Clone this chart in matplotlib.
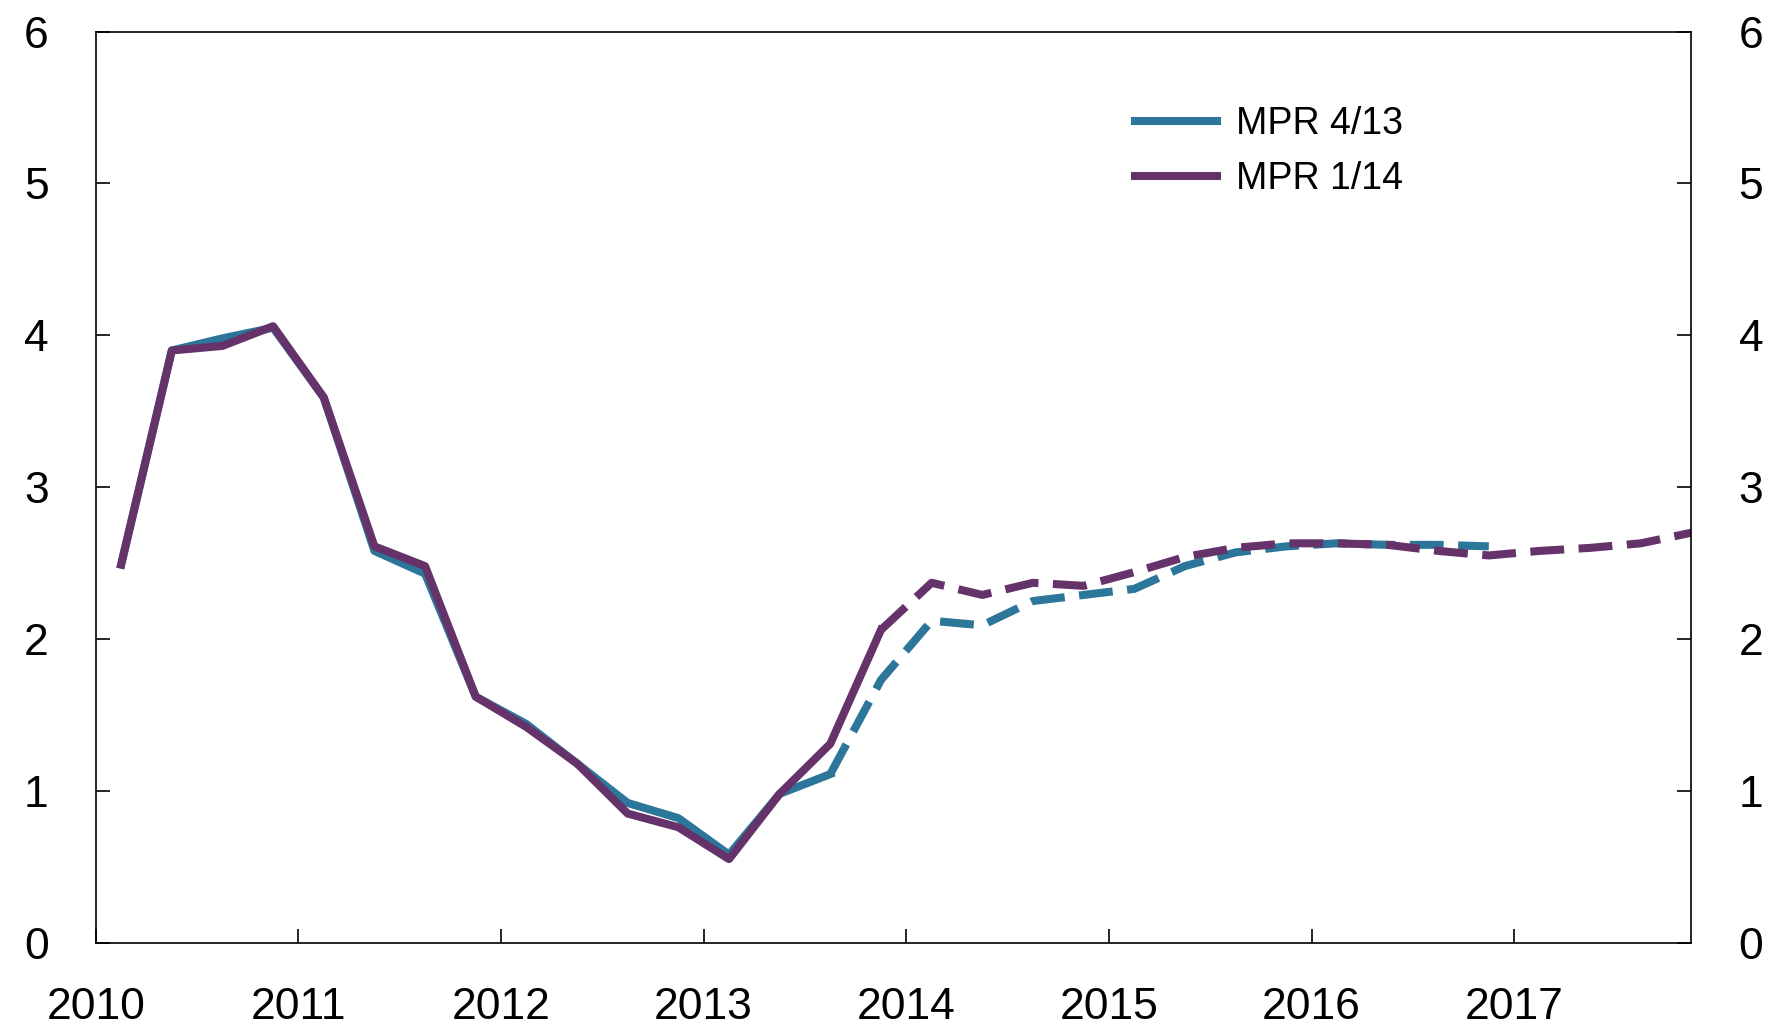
import numpy as np
import matplotlib.pyplot as plt

plt.rcParams['font.family'] = ['Liberation Sans', 'DejaVu Sans']

# quarterly, 2010 Q1 onwards
mpr_413 = [2.49, 3.90, 3.98, 4.05, 3.59, 2.58, 2.43, 1.62, 1.44, 1.18, 0.92, 0.82,
           0.58, 0.98, 1.11, 1.73, 2.12, 2.09, 2.25, 2.29, 2.33, 2.48, 2.57, 2.61,
           2.63, 2.62, 2.62, 2.61]
mpr_114 = [2.49, 3.90, 3.93, 4.06, 3.59, 2.61, 2.48, 1.62, 1.42, 1.18, 0.85, 0.76,
           0.55, 0.98, 1.31, 2.06, 2.37, 2.29, 2.37, 2.35, 2.44, 2.54, 2.60, 2.63,
           2.63, 2.62, 2.58, 2.55, 2.58, 2.60, 2.63, 2.70]
last_hist_413 = 14   # 2013 Q3
last_hist_114 = 15   # 2013 Q4
years = list(range(2010, 2018))
blue = '#2C7699'
purple = '#66326A'

def quarter_x(n):
    return 2010 + 0.125 + 0.25 * np.arange(n)

fig = plt.figure(figsize=(17.68, 10.30), dpi=100)
ax = fig.add_axes([0.0542, 0.0848, 0.9025, 0.8845])

lw = 5.8
dash = (4.2, 1.8)
x1 = quarter_x(len(mpr_413))
x2 = quarter_x(len(mpr_114))
ax.plot(x1[:last_hist_413 + 1], mpr_413[:last_hist_413 + 1], color=blue, lw=lw, label='MPR 4/13')
ax.plot(x1[last_hist_413:], mpr_413[last_hist_413:], color=blue, lw=lw, dashes=dash)
ax.plot(x2[:last_hist_114 + 1], mpr_114[:last_hist_114 + 1], color=purple, lw=lw, label='MPR 1/14')
ax.plot(x2[last_hist_114:], mpr_114[last_hist_114:], color=purple, lw=lw, dashes=dash)

ax.set_xlim(2010, 2017.875)
ax.set_ylim(0, 6)
ax.set_xticks(years)
ax.set_xticklabels([str(y) for y in years])
ax.set_yticks(range(7))
ax.tick_params(axis='both', direction='in', length=10, width=1.2, labelsize=32)
ax.tick_params(axis='y', right=True, labelright=True, pad=34)
ax.tick_params(axis='x', pad=32)
for s in ax.spines.values():
    s.set_linewidth(1.2)

ax.legend(loc='upper left', bbox_to_anchor=(0.63, 0.955), frameon=False, fontsize=27,
          handlelength=2.2, handletextpad=0.5, labelspacing=0.5)

fig.savefig('out.png', dpi=100)
